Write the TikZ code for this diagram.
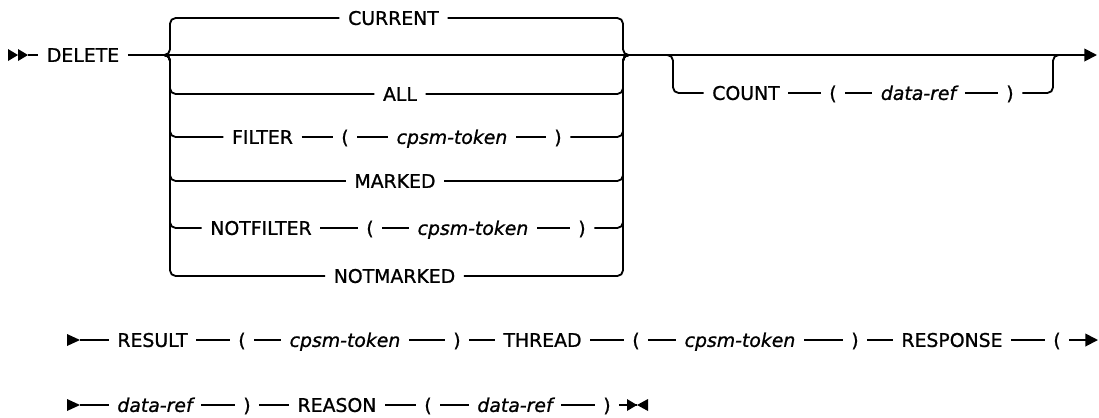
\documentclass[tikz,border=0pt]{standalone}
\usepackage{fontspec}
\setmainfont{DejaVu Sans}[ItalicFont={DejaVu Sans Oblique}, FakeBold=1]
\usetikzlibrary{arrows.meta}
\tikzset{
  kw/.style={font=\fontsize{13.4}{16}\selectfont, inner xsep=6pt, inner ysep=0pt, text height=9.8pt, text depth=0pt},
  var/.style={kw, font=\fontsize{13.4}{16}\selectfont\itshape},
  rail/.style={line width=1.3pt},
  brace/.style={rail, rounded corners=4pt},
  tip/.style={-{Triangle[length=9pt,width=9pt]}}
}

\begin{document}
\begin{tikzpicture}[x=0.025cm, y=-0.025cm]
  \useasboundingbox (0,0) rectangle (1099,417);

  % main line
  \node[kw] (delete) at (83,55) {DELETE};
  \coordinate (start) at (28,55);
  \coordinate (lb) at (163,55);
  \coordinate (rb) at (630,55);
  \coordinate (cb) at (662,55);
  \coordinate (ce) at (1064,55);
  \coordinate (stop) at (1097,55);
  \coordinate (lv) at (170,0);
  \coordinate (rv) at (623,0);
  \coordinate (cv) at (673,0);
  \coordinate (cw) at (1053,0);

  \fill (8,49) -- (18,55) -- (8,61) -- cycle;
  \fill (18,49) -- (28,55) -- (18,61) -- cycle;
  \draw[rail] (start) -- (delete);
  \draw[rail, tip] (delete) -- (stop);

  % choices
  \node[kw] (current) at (393.5,18) {CURRENT};
  \node[kw] (all) at (400,94) {ALL};
  \node[kw] (filter) at (262.5,137) {FILTER};
  \node[kw] (lpa) at (345,137) {(};
  \node[var] (tokena) at (452,137) {cpsm-token};
  \node[kw] (rpa) at (558,137) {)};
  \node[kw] (marked) at (395,181) {MARKED};
  \node[kw] (notfilter) at (261,228) {NOTFILTER};
  \node[kw] (lpb) at (370,228) {(};
  \node[var] (tokenb) at (473,228) {cpsm-token};
  \node[kw] (rpb) at (582,228) {)};
  \node[kw] (notmarked) at (394.5,276) {NOTMARKED};

  \foreach \first/\last in {current/current, all/all, filter/rpa, marked/marked, notfilter/rpb, notmarked/notmarked} {
    \draw[brace] (lb) -| (lv |- \first) -- (\first);
    \draw[brace] (\last) -- (rv |- \last) |- (rb);
  }
  \draw[rail] (filter) -- (lpa) -- (tokena) -- (rpa);
  \draw[rail] (notfilter) -- (lpb) -- (tokenb) -- (rpb);

  % optional count
  \node[kw] (count) at (746,93) {COUNT};
  \node[kw] (lpc) at (833,93) {(};
  \node[var] (refa) at (918.5,93) {data-ref};
  \node[kw] (rpc) at (1010,93) {)};
  \draw[brace] (cb) -| (cv |- count) -- (count);
  \draw[rail] (count) -- (lpc) -- (refa) -- (rpc);
  \draw[brace] (rpc) -- (cw |- rpc) |- (ce);

  % second line
  \node[kw] (result) at (152.5,340) {RESULT};
  \node[kw] (lpd) at (242,340) {(};
  \node[var] (tokenc) at (345,340) {cpsm-token};
  \node[kw] (rpd) at (457,340) {)};
  \node[kw] (thread) at (542.5,340) {THREAD};
  \node[kw] (lpe) at (636,340) {(};
  \node[var] (tokend) at (740,340) {cpsm-token};
  \node[kw] (rpe) at (855,340) {)};
  \node[kw] (response) at (952,340) {RESPONSE};
  \node[kw] (lpf) at (1057,340) {(};
  \coordinate (contb) at (80,340);
  \coordinate (conte) at (1098,340);
  \fill (67,334) -- (80,340) -- (67,346) -- cycle;
  \draw[rail] (contb) -- (result) -- (lpd) -- (tokenc) -- (rpd) -- (thread)
    -- (lpe) -- (tokend) -- (rpe) -- (response) -- (lpf);
  \draw[rail, tip] (lpf) -- (conte);

  % third line
  \node[var] (refb) at (155,405) {data-ref};
  \node[kw] (rpg) at (247,405) {)};
  \node[kw] (reason) at (337,405) {REASON};
  \node[kw] (lph) at (428,405) {(};
  \node[var] (refc) at (515,405) {data-ref};
  \node[kw] (rph) at (607,405) {)};
  \coordinate (contc) at (80,405);
  \coordinate (endm) at (637,405);
  \fill (67,399) -- (80,405) -- (67,411) -- cycle;
  \draw[rail] (contc) -- (refb) -- (rpg) -- (reason) -- (lph) -- (refc) -- (rph) -- (endm);
  \fill (627,399) -- (637,405) -- (627,411) -- cycle;
  \fill (648,399) -- (637,405) -- (648,411) -- cycle;
\end{tikzpicture}
\end{document}
